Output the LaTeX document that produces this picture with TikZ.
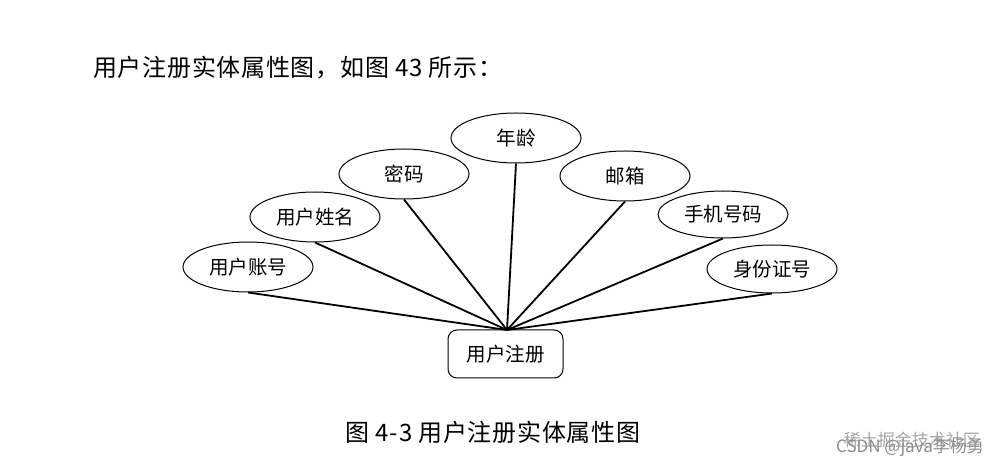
\documentclass[tikz,border=0pt]{standalone}
\usepackage{fontspec}
\newfontfamily\cjk{Noto Sans CJK SC}
\usetikzlibrary{shapes.geometric}
\begin{document}
\begin{tikzpicture}[x=1pt,y=-1pt,
  attr/.style={draw=black,line width=1pt,ellipse,minimum width=130pt,minimum height=50pt,inner sep=0pt,font=\cjk\fontsize{19.5}{22}\selectfont},
  entity/.style={draw=black,line width=1pt,rounded corners=9pt,minimum width=115pt,minimum height=48pt,inner sep=0pt,font=\cjk\fontsize{19.5}{22}\selectfont},
  link/.style={line width=1.8pt},
  big/.style={font=\cjk\fontsize{24}{28}\selectfont,inner sep=0pt},
  wm/.style={font=\cjk\fontsize{17}{19}\selectfont,text=black!35,inner sep=0pt}]
\useasboundingbox[fill=white] (0,0) rectangle (1002,470);
\node[big,anchor=west] (title) at (93,68) {\addfontfeature{LetterSpace=3}用户注册实体属性图，如图 43 所示：};
\node[entity] (reg) at (505.5,354) {用户注册};
\node[attr] (a1) at (248,267) {用户账号};
\node[attr] (a2) at (315,217) {用户姓名};
\node[attr] (a3) at (404,174) {密码};
\node[attr] (a4) at (516,138) {年龄};
\node[attr] (a5) at (625,176) {邮箱};
\node[attr,minimum height=47pt] (a6) at (723,214.5) {手机号码};
\node[attr,minimum height=48pt] (a7) at (772,269) {身份证号};
\coordinate (hub) at (507,330);
\foreach \n in {a1,a2,a3,a4,a5,a6,a7}{\draw[link] (\n.south) -- (hub);}
\node[big] (caption) at (493,432) {\addfontfeature{LetterSpace=3}图 4-3 用户注册实体属性图};
\node[wm,anchor=east] (wm1) at (980,440) {稀土掘金技术社区};
\node[wm,anchor=east,text=black!45] (wm2) at (984,447) {CSDN @java李杨勇};
\end{tikzpicture}
\end{document}
